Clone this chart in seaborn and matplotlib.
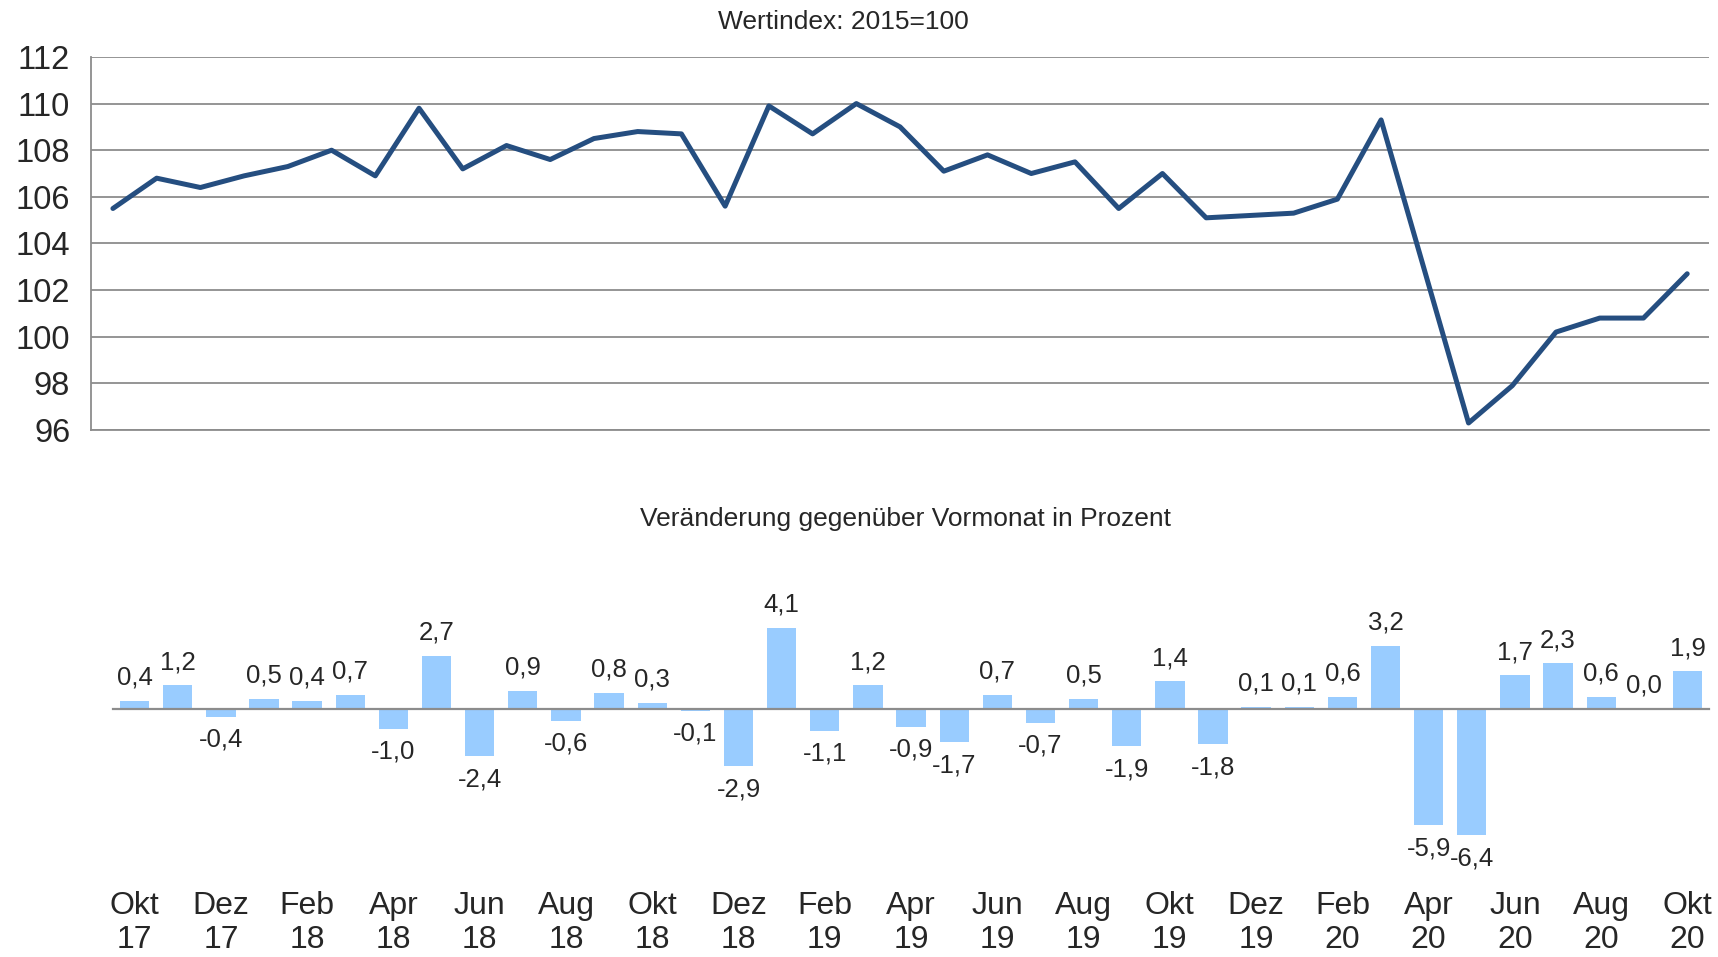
import matplotlib
matplotlib.use("Agg")
import matplotlib.pyplot as plt
import numpy as np
import seaborn as sns
from matplotlib.ticker import FixedLocator

# Monate Okt 2017 bis Okt 2020
months = [
    "Okt 17", "Nov 17", "Dez 17",
    "Jan 18", "Feb 18", "Mär 18", "Apr 18", "Mai 18", "Jun 18",
    "Jul 18", "Aug 18", "Sep 18", "Okt 18", "Nov 18", "Dez 18",
    "Jan 19", "Feb 19", "Mär 19", "Apr 19", "Mai 19", "Jun 19",
    "Jul 19", "Aug 19", "Sep 19", "Okt 19", "Nov 19", "Dez 19",
    "Jan 20", "Feb 20", "Mär 20", "Apr 20", "Mai 20", "Jun 20",
    "Jul 20", "Aug 20", "Sep 20", "Okt 20",
]

# Wertindex 2015=100
index_values = [
    105.5, 106.8, 106.4,
    106.9, 107.3, 108.0, 106.9, 109.8, 107.2,
    108.2, 107.6, 108.5, 108.8, 108.7, 105.6,
    109.9, 108.7, 110.0, 109.0, 107.1, 107.8,
    107.0, 107.5, 105.5, 107.0, 105.1, 105.2,
    105.3, 105.9, 109.3, 102.8, 96.3, 97.9,
    100.2, 100.8, 100.8, 102.7,
]

# Veränderung gegenüber Vormonat in Prozent
change_values = [
    0.4, 1.2, -0.4,
    0.5, 0.4, 0.7, -1.0, 2.7, -2.4,
    0.9, -0.6, 0.8, 0.3, -0.1, -2.9,
    4.1, -1.1, 1.2, -0.9, -1.7, 0.7,
    -0.7, 0.5, -1.9, 1.4, -1.8, 0.1,
    0.1, 0.6, 3.2, -5.9, -6.4, 1.7,
    2.3, 0.6, 0.0, 1.9,
]

y_ticks = [96, 98, 100, 102, 104, 106, 108, 110, 112]
tick_labels = [m.replace(" ", "\n") for m in months[::2]]
bar_labels = [f"{v:.1f}".replace(".", ",") for v in change_values]

LINE_COLOR = "#254E80"
BAR_COLOR = "#99CCFF"
GRID_COLOR = "#8C8C8C"

sns.set_style("white")
plt.rcParams["font.family"] = ["Liberation Sans", "DejaVu Sans"]

fig = plt.figure(figsize=(17.18, 9.57), dpi=100)
ax1 = fig.add_axes([0.053, 0.5507, 0.9418, 0.3898])
ax2 = fig.add_axes([0.0658, 0.1149, 0.929, 0.2476])

# ---- oben: Wertindex ----
x_pos = np.arange(len(months))
sns.lineplot(x=x_pos, y=index_values, ax=ax1, color=LINE_COLOR, linewidth=3.6)
ax1.set_xlim(-0.5, len(months) - 0.5)
ax1.set_ylim(96, 112)
ax1.set_yticks(y_ticks)
ax1.set_yticklabels([str(t) for t in y_ticks], fontsize=23.5)
ax1.set_xticks([])
ax1.grid(axis="y", color=GRID_COLOR, linewidth=1.3)
ax1.set_axisbelow(True)
for side in ["top", "right"]:
    ax1.spines[side].set_visible(False)
ax1.spines["left"].set_color(GRID_COLOR)
ax1.spines["left"].set_linewidth(1.3)
ax1.spines["bottom"].set_color(GRID_COLOR)
ax1.spines["bottom"].set_linewidth(1.3)
ax1.tick_params(axis="y", direction="out", length=6, width=1.3, color=GRID_COLOR, pad=9)
ax1.set_xlabel("")
ax1.set_ylabel("")

fig.text(0.4907, 0.977, "Wertindex: 2015=100", ha="center", va="center", fontsize=19)

# ---- unten: Veränderung zum Vormonat ----
sns.barplot(x=months, y=change_values, ax=ax2, color=BAR_COLOR, saturation=1,
            width=0.68, edgecolor="none")
ax2.bar_label(ax2.containers[0], labels=bar_labels, fontsize=18.5, padding=8)
ax2.set_xlim(-0.5, len(months) - 0.5)
ax2.set_ylim(-7, 5)
ax2.set_yticks([])
for side in ["top", "right", "left"]:
    ax2.spines[side].set_visible(False)
ax2.spines["bottom"].set_position(("data", 0))
ax2.spines["bottom"].set_color(GRID_COLOR)
ax2.spines["bottom"].set_linewidth(1.6)
ax2.xaxis.set_major_locator(FixedLocator(list(range(0, len(months), 2))))
ax2.set_xticklabels(tick_labels, fontsize=23, linespacing=1.2)
ax2.xaxis.set_minor_locator(FixedLocator(list(np.arange(-0.5, len(months), 1.0))))
ax2.tick_params(axis="x", which="major", length=0, pad=131)
ax2.tick_params(axis="x", which="minor", length=7, width=1.3, color=GRID_COLOR, direction="out")
ax2.set_xlabel("")
ax2.set_ylabel("")

fig.text(0.5268, 0.4577, "Veränderung gegenüber Vormonat in Prozent",
         ha="center", va="center", fontsize=19)

fig.savefig("out.png", dpi=100)
